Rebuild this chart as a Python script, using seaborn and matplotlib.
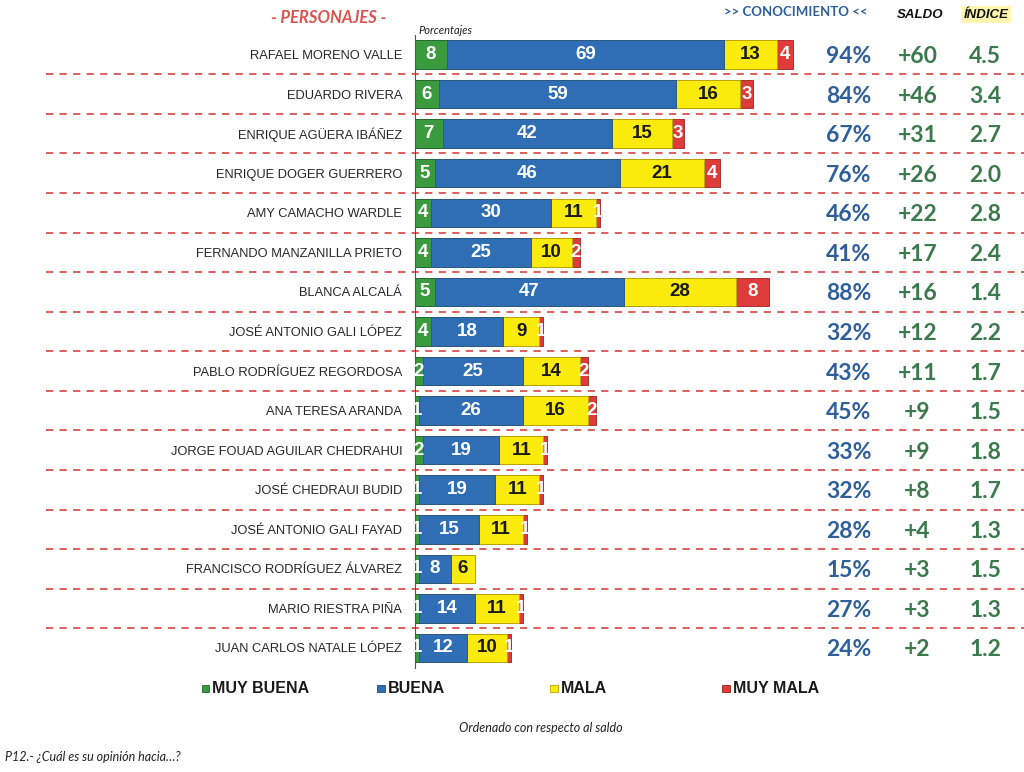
import matplotlib.pyplot as plt
import matplotlib.transforms as mtransforms
from matplotlib.patches import Rectangle
import seaborn as sns
import pandas as pd

nombres = ["RAFAEL MORENO VALLE", "EDUARDO RIVERA", "ENRIQUE AGÜERA IBÁÑEZ",
           "ENRIQUE DOGER GUERRERO", "AMY CAMACHO WARDLE", "FERNANDO MANZANILLA PRIETO",
           "BLANCA ALCALÁ", "JOSÉ ANTONIO GALI LÓPEZ", "PABLO RODRÍGUEZ REGORDOSA",
           "ANA TERESA ARANDA", "JORGE FOUAD AGUILAR CHEDRAHUI", "JOSÉ CHEDRAUI BUDID",
           "JOSÉ ANTONIO GALI FAYAD", "FRANCISCO RODRÍGUEZ ÁLVAREZ", "MARIO RIESTRA PIÑA",
           "JUAN CARLOS NATALE LÓPEZ"]
muy_buena = [8, 6, 7, 5, 4, 4, 5, 4, 2, 1, 2, 1, 1, 1, 1, 1]
buena = [69, 59, 42, 46, 30, 25, 47, 18, 25, 26, 19, 19, 15, 8, 14, 12]
mala = [13, 16, 15, 21, 11, 10, 28, 9, 14, 16, 11, 11, 11, 6, 11, 10]
muy_mala = [4, 3, 3, 4, 1, 2, 8, 1, 2, 2, 1, 1, 1, 0, 1, 1]
conocimiento = [94, 84, 67, 76, 46, 41, 88, 32, 43, 45, 33, 32, 28, 15, 27, 24]
saldo = [60, 46, 31, 26, 22, 17, 16, 12, 11, 9, 9, 8, 4, 3, 3, 2]
indice = [4.5, 3.4, 2.7, 2.0, 2.8, 2.4, 1.4, 2.2, 1.7, 1.5, 1.8, 1.7, 1.3, 1.5, 1.3, 1.2]

series = ["MUY BUENA", "BUENA", "MALA", "MUY MALA"]
colores = ["#3b9a3e", "#2f6db5", "#fbeb0c", "#dd3c3a"]
bordes = ["#24692a", "#1f4f86", "#b8a800", "#9c2220"]
txt_col = ["white", "white", "#1a1a1a", "white"]

df = pd.DataFrame({"nombre": nombres, "MUY BUENA": muy_buena, "BUENA": buena,
                   "MALA": mala, "MUY MALA": muy_mala})
acum = df[series].cumsum(axis=1)

sns.set_style("white")
plt.rcParams["font.family"] = ["Liberation Sans", "DejaVu Sans"]

fig = plt.figure(figsize=(10.24, 7.72), dpi=100)
ax = fig.add_axes([0.405, 0.135, 0.595, 0.82])

# stacked bars: draw cumulative totals from largest to smallest
for k in range(3, -1, -1):
    sns.barplot(x=acum[series[k]], y=df["nombre"], orient="h", color=colores[k],
                saturation=1, width=0.72, errorbar=None, edgecolor=bordes[k],
                linewidth=0.6, ax=ax)

ax.set_xlim(0, 151.5)
ax.set_ylim(15.5, -0.5)
ax.set_xlabel("")
ax.set_ylabel("")
ax.set_xticks([])
ax.tick_params(axis="y", length=0, pad=9, labelsize=9.3)
for s in ["top", "right", "bottom"]:
    ax.spines[s].set_visible(False)
ax.spines["left"].set_color("#555555")
ax.spines["left"].set_linewidth(0.8)

# values inside the segments
for i in range(len(nombres)):
    inicio = 0
    for k, s in enumerate(series):
        v = df[s][i]
        if v > 0:
            ax.text(inicio + v / 2, i, str(v), ha="center", va="center",
                    color=txt_col[k], fontsize=13.5, fontweight="bold")
        inicio += v

# dashed separators across the whole row
tr = mtransforms.blended_transform_factory(fig.transFigure, ax.transData)
for i in range(len(nombres) - 1):
    ax.plot([0.045, 1.0], [i + 0.5, i + 0.5], transform=tr, clip_on=False,
            color="#d9534f", lw=1.3, ls=(0, (4, 3.5)))

# right-hand columns
for i in range(len(nombres)):
    ax.text(0.829, i + 0.05, f"{conocimiento[i]}%", transform=tr, ha="center", va="center",
            fontsize=16.5, fontweight="bold", color="#2f5f9a", family="Lato")
    ax.text(0.896, i + 0.05, f"+{saldo[i]}", transform=tr, ha="center", va="center",
            fontsize=16.5, fontweight="bold", color="#3b7a4c", family="Lato")
    ax.text(0.962, i + 0.05, f"{indice[i]:.1f}", transform=tr, ha="center", va="center",
            fontsize=16.5, fontweight="bold", color="#3b7a4c", family="Lato")

fig.text(0.321, 0.977, "- PERSONAJES -", ha="center", va="center", fontsize=12,
         fontweight="bold", style="italic", color="#d9534f", family="Lato")
fig.text(0.409, 0.961, "Porcentajes", ha="left", va="center", fontsize=8,
         style="italic", color="#222222", family="Lato")
fig.text(0.777, 0.984, ">> CONOCIMIENTO <<", ha="center", va="center", fontsize=9.5,
         fontweight="bold", color="#2f5f9a", family="Lato")
fig.text(0.899, 0.981, "SALDO", ha="center", va="center", fontsize=9.5,
         fontweight="bold", style="italic", color="#111111")
fig.text(0.963, 0.981, "ÍNDICE", ha="center", va="center", fontsize=9.5,
         fontweight="bold", style="italic", color="#111111",
         bbox=dict(boxstyle="square,pad=0.2", fc="#fff7b0", ec="none"))

# legend
leg_x = [0.197, 0.368, 0.537, 0.705]
for k, s in enumerate(series):
    fig.patches.append(Rectangle((leg_x[k], 0.103), 0.0075, 0.01, transform=fig.transFigure,
                                 fc=colores[k], ec=bordes[k], lw=0.6))
    fig.text(leg_x[k] + 0.0105, 0.108, s, ha="left", va="center", fontsize=11.5,
             fontweight="bold", color="#1a1a1a")

fig.text(0.528, 0.057, "Ordenado con respecto al saldo", ha="center", va="center",
         fontsize=9, style="italic", color="#222222", family="Lato")
fig.text(0.005, 0.019, "P12.- ¿Cuál es su opinión hacia…?", ha="left", va="center",
         fontsize=9, style="italic", color="#222222", family="Lato")

fig.savefig("out.png", dpi=100)
